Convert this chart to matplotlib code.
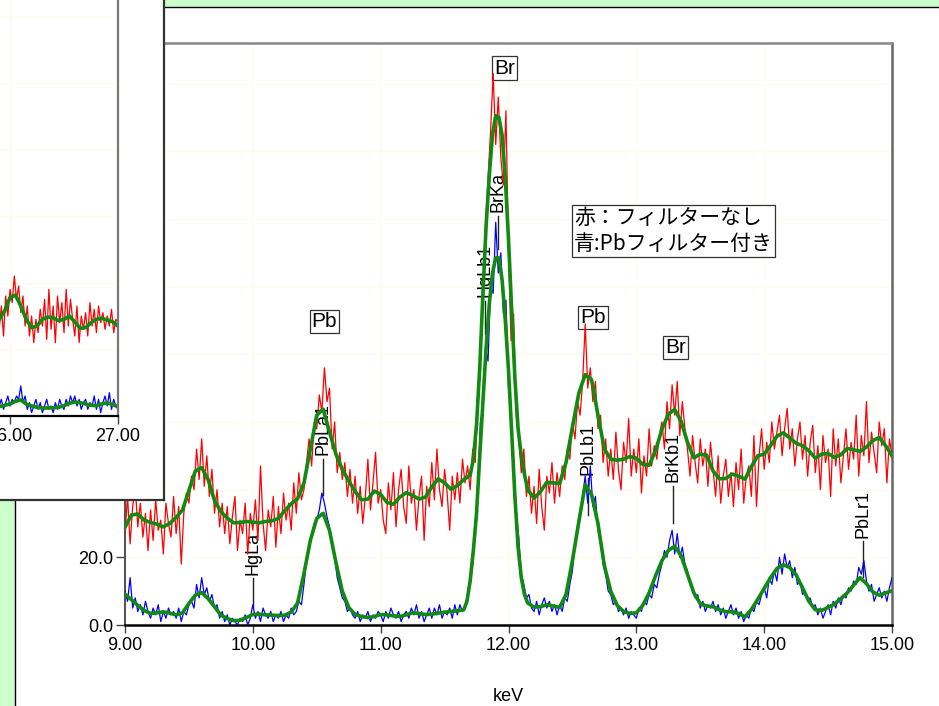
import numpy as np
import matplotlib
matplotlib.use("Agg")
import matplotlib.pyplot as plt
from matplotlib.patches import Rectangle
from matplotlib.ticker import FormatStrFormatter

plt.rcParams['font.family'] = ['Liberation Sans', 'Noto Sans CJK JP']

W, H = 939, 706

# 生データ (0.02 keV 刻み, 9.00 - 15.00 keV)
energy = np.linspace(9.0, 15.0, 301)
red_raw = [
    27, 38, 24, 35, 41, 29, 36, 26, 33, 22,
    34, 25, 37, 28, 31, 21, 36, 30, 26, 38,
    27, 35, 18, 33, 39, 36, 44, 40, 52, 43,
    55, 41, 50, 38, 46, 33, 40, 29, 36, 27,
    35, 24, 32, 38, 22, 31, 27, 36, 21, 33,
    28, 37, 25, 47, 30, 22, 34, 29, 38, 23,
    35, 27, 39, 31, 36, 28, 42, 33, 45, 37,
    40, 48, 55, 47, 60, 58, 68, 63, 76, 66,
    70, 52, 60, 45, 51, 43, 48, 38, 46, 36,
    44, 33, 41, 30, 38, 49, 34, 42, 51, 36,
    40, 31, 27, 42, 34, 45, 29, 40, 46, 35,
    30, 47, 36, 40, 28, 38, 44, 25, 41, 35,
    48, 37, 52, 40, 35, 46, 39, 28, 44, 37,
    45, 36, 49, 42, 47, 40, 52, 48, 66, 82,
    100, 118, 132, 146, 163, 142, 156, 138, 130, 152,
    110, 84, 92, 62, 55, 45, 52, 38, 44, 33,
    41, 30, 46, 35, 28, 44, 39, 48, 36, 45,
    38, 47, 43, 52, 49, 60, 55, 66, 62, 72,
    89, 70, 76, 66, 72, 58, 62, 48, 55, 44,
    52, 43, 57, 46, 40, 54, 48, 61, 44, 52,
    45, 55, 39, 50, 44, 58, 47, 53, 49, 56,
    60, 52, 66, 58, 71, 62, 72, 56, 66, 58,
    52, 44, 56, 48, 42, 55, 47, 52, 41, 54,
    46, 38, 50, 36, 44, 49, 38, 45, 35, 48,
    40, 52, 36, 44, 47, 38, 56, 35, 50, 58,
    46, 54, 48, 60, 52, 57, 62, 50, 58, 64,
    52, 58, 47, 55, 60, 49, 56, 44, 54, 59,
    45, 53, 40, 56, 48, 52, 38, 58, 47, 55,
    42, 50, 58, 46, 54, 49, 62, 44, 56, 50,
    66, 48, 57, 51, 45, 60, 53, 58, 42, 55,
    50]
blue_raw = [
    10, 7, 14, 5, 8, 4, 6, 3, 7, 4,
    2, 5, 3, 6, 1, 4, 2, 5, 3, 4,
    2, 5, 1, 4, 3, 6, 7, 5, 12, 8,
    14, 9, 11, 7, 9, 5, 6, 2, 4, 1,
    3, 0, 2, 1, 0, 2, 1, 3, 0, 2,
    6, 2, 4, 1, 5, 3, 2, 4, 1, 3,
    2, 4, 1, 3, 2, 5, 3, 4, 7, 6,
    12, 19, 22, 27, 30, 31, 34, 39, 36, 32,
    29, 23, 20, 14, 11, 8, 7, 4, 5, 3,
    2, 4, 1, 3, 2, 4, 1, 3, 2, 4,
    3, 1, 4, 2, 5, 3, 2, 4, 1, 3,
    4, 2, 5, 3, 6, 2, 4, 1, 3, 5,
    2, 5, 3, 6, 2, 4, 3, 5, 2, 6,
    3, 6, 4, 5, 9, 12, 18, 30, 38, 60,
    64, 82, 78, 100, 98, 119, 104, 110, 92, 96,
    70, 62, 48, 34, 26, 15, 12, 8, 9, 5,
    4, 7, 3, 6, 8, 5, 7, 4, 6, 3,
    6, 4, 8, 7, 12, 16, 24, 29, 33, 38,
    44, 36, 47, 35, 38, 28, 25, 18, 15, 10,
    9, 6, 7, 4, 5, 3, 5, 2, 4, 3,
    2, 5, 4, 7, 6, 9, 8, 12, 11, 15,
    18, 22, 20, 25, 28, 21, 27, 20, 23, 18,
    16, 12, 10, 8, 9, 5, 7, 4, 6, 5,
    7, 4, 6, 3, 5, 2, 4, 6, 3, 5,
    2, 4, 1, 3, 2, 5, 4, 7, 6, 9,
    11, 8, 14, 12, 16, 13, 20, 15, 21, 17,
    19, 14, 17, 12, 13, 9, 10, 7, 8, 5,
    6, 3, 5, 2, 4, 6, 3, 7, 5, 8,
    6, 9, 8, 11, 10, 13, 12, 17, 15, 19,
    13, 10, 12, 7, 9, 11, 8, 10, 7, 11,
    14]

# 平滑化曲線 (ピーク付近は 0.025 keV 刻み)
smooth_e = np.concatenate([np.linspace(9.0, 11.65, 54),
                           np.linspace(11.675, 12.125, 19),
                           np.linspace(12.15, 15.0, 58)])
red_smooth = [
    28.9, 32.5, 32.8, 31.0, 30.3, 29.8, 29.0, 30.0, 31.8, 34.0,
    39.7, 45.5, 46.5, 43.0, 36.8, 33.5, 31.6, 30.2, 30.3, 30.6,
    30.4, 30.2, 30.6, 30.8, 31.5, 33.8, 35.8, 37.3, 42.0, 52.0,
    62.0, 63.8, 57.0, 50.5, 46.0, 42.6, 39.5, 37.0, 37.2, 39.6,
    38.6, 36.2, 35.7, 37.8, 39.1, 38.3, 37.2, 37.8, 40.8, 43.2,
    42.0, 40.1, 41.2, 43.0,
    43.6, 44.3, 49.0, 59.2, 76.0, 98.0, 118.0, 133.0, 145.0, 150.5,
    150.0, 144.8, 132.0, 114.0, 93.0, 73.0, 58.0, 50.0, 44.5,
    40.0, 37.5, 39.4, 42.2, 42.0, 41.8, 48.0, 58.5, 68.5, 74.0,
    72.5, 62.0, 52.0, 49.0, 48.7, 49.0, 49.8, 49.3, 47.5, 47.2,
    51.5, 57.8, 62.3, 63.7, 60.2, 54.0, 49.4, 50.5, 50.2, 45.5,
    43.2, 43.3, 44.6, 44.0, 43.1, 46.8, 50.0, 50.5, 53.0, 55.8,
    56.8, 55.3, 53.7, 53.0, 51.5, 49.3, 50.5, 50.7, 49.5, 50.3,
    52.2, 51.8, 51.3, 52.6, 54.5, 55.4, 53.0, 50.0]
blue_smooth = [
    9.1, 7.5, 5.8, 4.3, 3.4, 3.6, 3.9, 3.5, 3.0, 3.6,
    6.4, 8.8, 9.6, 7.8, 5.4, 2.9, 1.9, 1.3, 1.4, 2.2,
    3.1, 3.2, 3.0, 2.9, 2.8, 2.9, 3.8, 6.5, 15.2, 25.0,
    31.5, 33.0, 27.9, 18.5, 10.0, 5.2, 3.1, 2.5, 2.2, 2.5,
    3.1, 3.0, 2.7, 2.5, 3.0, 3.6, 3.4, 3.1, 3.2, 3.5,
    3.8, 4.0, 4.2, 4.5,
    7.0, 13.0, 22.0, 33.0, 50.0, 66.0, 82.0, 95.0, 104.0, 108.5,
    108.5, 102.0, 90.0, 75.3, 57.0, 38.0, 23.0, 14.0, 9.0,
    6.5, 5.3, 5.4, 6.0, 5.6, 5.2, 9.0, 19.0, 30.5, 41.5,
    38.5, 30.0, 17.5, 10.0, 5.8, 4.0, 3.4, 3.6, 5.8, 9.5,
    14.5, 19.0, 22.0, 23.3, 20.5, 15.0, 9.5, 6.3, 5.6, 5.4,
    4.5, 3.9, 3.9, 3.4, 2.4, 4.6, 7.6, 10.8, 14.0, 16.7,
    17.8, 17.0, 14.8, 11.0, 7.0, 4.5, 4.3, 5.2, 6.2, 7.8,
    9.5, 11.8, 14.0, 12.2, 9.8, 8.8, 9.5, 10.1]

# 右上の別ウィンドウ (26-27 keV)
inset_e = np.linspace(25.90, 27.00, 56)
inset_red = [
    26, 33, 24, 36, 30, 38, 34, 42, 35, 39,
    31, 36, 27, 33, 24, 30, 22, 29, 25, 32,
    27, 35, 23, 38, 26, 33, 22, 36, 28, 34,
    25, 38, 27, 35, 29, 24, 33, 22, 30, 26,
    31, 24, 34, 27, 32, 25, 33, 28, 31, 26,
    30, 27, 32, 25, 29, 28]
inset_blue = [
    3, 5, 2, 4, 6, 3, 5, 4, 6, 5,
    9, 4, 6, 2, 4, 1, 3, 5, 2, 4,
    1, 3, 5, 2, 3, 1, 4, 2, 5, 3,
    2, 5, 3, 6, 4, 6, 3, 5, 2, 4,
    5, 2, 4, 3, 6, 2, 5, 1, 4, 6,
    3, 7, 2, 5, 3, 2]
inset_smooth_e = np.linspace(25.90, 27.00, 23)
inset_red_smooth = [29.0, 31.5, 35.5, 36.3, 33.0, 29.0, 26.5, 27.0, 29.0, 29.7,
                    29.5, 28.6, 29.0, 30.0, 28.2, 26.3, 26.5, 28.0, 29.0, 29.3,
                    28.8, 28.3, 27.0]
inset_blue_smooth = [2.8, 3.2, 3.6, 4.4, 4.8, 3.6, 3.0, 2.6, 2.4, 2.4,
                     2.5, 2.6, 3.1, 3.8, 4.2, 4.0, 3.6, 3.2, 3.1, 3.6,
                     4.0, 3.4, 2.8]

# ピーク名
line_names = ['HgLa', 'PbLa1', 'HgLb1', 'BrKa', 'PbLb1', 'BrKb1', 'PbLr1']
line_e = [10.00, 10.55, 11.82, 11.92, 12.62, 13.29, 14.77]
line_top = [14.8, 50.2, 96.9, 122.0, 44.3, 42.2, 25.7]
line_bottom = [5.3, 38.4, 86.0, 111.0, 32.5, 30.1, 14.2]

elem_names = ['Pb', 'Br', 'Pb', 'Br']
elem_e = [10.56, 11.97, 12.66, 13.31]
elem_y = [89.7, 164.6, 90.9, 82.1]

legend_text = '赤：フィルターなし\n青:Pbフィルター付き'

RED = '#ff0000'
BLUE = '#0000ff'
GREEN = '#108a10'
GRID = '#fffcee'

fig = plt.figure(figsize=(W / 100, H / 100), dpi=100, facecolor='#ccffcc')

# 白いパネル
panel = Rectangle((14.5 / W, -0.05), 1.1, (H - 6.5) / H + 0.05,
                  transform=fig.transFigure, facecolor='white',
                  edgecolor='black', lw=1.0, zorder=-1)
fig.add_artist(panel)

ax = fig.add_axes([125 / W, (H - 625) / H, 767 / W, 582 / H])
ax.set_facecolor('white')
ax.set_axisbelow(True)
ax.grid(True, color=GRID, lw=1)

ax.plot(energy, red_raw, color=RED, lw=0.9, zorder=3)
ax.plot(energy, blue_raw, color=BLUE, lw=0.9, zorder=3)
ax.plot(smooth_e, red_smooth, color=GREEN, lw=2.6, zorder=4)
ax.plot(smooth_e, blue_smooth, color=GREEN, lw=2.6, zorder=4)

for name, e, top, bot in zip(line_names, line_e, line_top, line_bottom):
    ax.plot([e, e], [bot, top - 1.0], color='#222222', lw=1, zorder=2)
    ax.text(e, top, name, rotation=90, ha='center', va='bottom',
            fontsize=13, zorder=2)

for name, e, y in zip(elem_names, elem_e, elem_y):
    ax.text(e, y, name, ha='center', va='center', fontsize=15, zorder=2,
            bbox=dict(boxstyle='square,pad=0.1', fc='white', ec='#333333', lw=0.9))

ax.text(13.29, 116.5, legend_text, ha='center', va='center', multialignment='left',
        fontsize=15, family=['Noto Sans CJK JP'], linespacing=1.25, zorder=2,
        bbox=dict(boxstyle='square,pad=0.08', fc='white', ec='#333333', lw=0.9))

ax.set_xlim(9.0, 15.0)
ax.set_ylim(0, 172)
ax.set_xticks(np.arange(9, 15.01, 1.0))
ax.set_yticks(np.arange(0, 171, 20))
ax.xaxis.set_major_formatter(FormatStrFormatter('%.2f'))
ax.yaxis.set_major_formatter(FormatStrFormatter('%.1f'))
ax.tick_params(axis='x', direction='out', length=5.5, width=1, color='#444444',
               labelsize=13, pad=3)
ax.tick_params(axis='y', direction='out', length=6.5, width=1, color='#444444',
               labelsize=13, pad=2)
ax.set_xlabel('keV', fontsize=13)
ax.xaxis.set_label_coords(0.5, -0.108)

ax.spines['bottom'].set_color('black')
ax.spines['bottom'].set_linewidth(1.8)
ax.spines['left'].set_color('#555555')
ax.spines['left'].set_linewidth(1.5)
ax.spines['top'].set_color('#888888')
ax.spines['top'].set_linewidth(1.8)
ax.spines['right'].set_color('#666666')
ax.spines['right'].set_linewidth(1.8)

# 重なっている小ウィンドウ
frame = fig.add_axes([0, (H - 500) / H, 164 / W, 500 / H], zorder=5)
frame.set_facecolor('white')
frame.set_xticks([])
frame.set_yticks([])
for side in ['top', 'left']:
    frame.spines[side].set_visible(False)
for side in ['right', 'bottom']:
    frame.spines[side].set_color('#333333')
    frame.spines[side].set_linewidth(1.6)

axi = fig.add_axes([-206 / W, (H - 416) / H, 324 / W, 516 / H], zorder=6)
axi.set_facecolor('none')
axi.set_axisbelow(True)
axi.grid(True, color=GRID, lw=1)
axi.plot(inset_e, inset_red, color=RED, lw=0.9)
axi.plot(inset_e, inset_blue, color=BLUE, lw=0.9)
axi.plot(inset_smooth_e, inset_red_smooth, color=GREEN, lw=2.6)
axi.plot(inset_smooth_e, inset_blue_smooth, color=GREEN, lw=2.6)
axi.set_xlim(24.0, 27.0)
axi.set_ylim(0, 154.8)
axi.set_xticks([26.0, 27.0])
axi.set_yticks(np.arange(0, 150, 20))
axi.xaxis.set_major_formatter(FormatStrFormatter('%.2f'))
axi.tick_params(axis='x', direction='out', length=5.5, width=1, color='#444444',
                labelsize=13, pad=3)
axi.tick_params(axis='y', length=0, labelleft=False)
axi.spines['top'].set_visible(False)
axi.spines['left'].set_visible(False)
axi.spines['bottom'].set_color('black')
axi.spines['bottom'].set_linewidth(1.6)
axi.spines['right'].set_color('#777777')
axi.spines['right'].set_linewidth(1.6)

fig.savefig('out.png', dpi=100, facecolor=fig.get_facecolor())
